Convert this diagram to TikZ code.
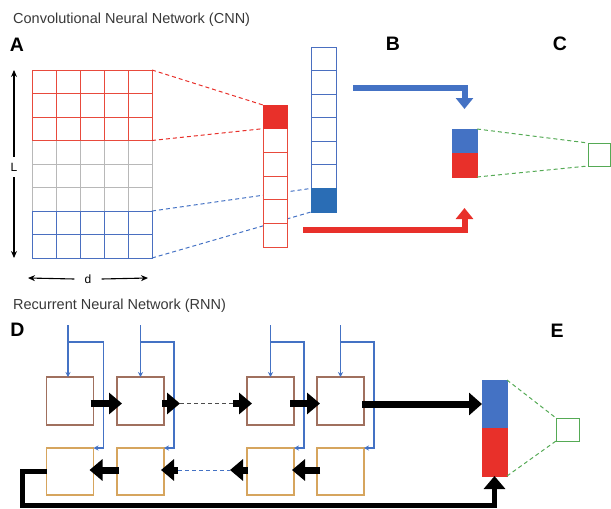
\documentclass[tikz,border=0pt]{standalone}
\usepackage{fontspec}
\setmainfont{Liberation Sans}
\usetikzlibrary{arrows.meta,calc}
\definecolor{cred}{HTML}{E8302A}
\definecolor{gridred}{HTML}{E84A3C}
\definecolor{gridgray}{HTML}{B8B8B8}
\definecolor{gridblue}{HTML}{4A6FC0}
\definecolor{cblue}{HTML}{4472C4}
\definecolor{cbluedark}{HTML}{2A6DB5}
\definecolor{cbrown}{HTML}{A0705E}
\definecolor{ctan}{HTML}{D6A55E}
\definecolor{cgreen}{HTML}{55AA55}
\definecolor{ctitle}{HTML}{383838}
\begin{document}
\begin{tikzpicture}[x=1pt,y=-1pt,
  cell/.style={draw, inner sep=0pt, outer sep=0pt, line width=0.9pt},
  titletext/.style={anchor=west, inner sep=0pt, text=ctitle, font=\fontsize{14.5}{17}\selectfont},
  panel/.style={inner sep=0pt, font=\fontsize{19.5}{22}\selectfont\bfseries},
  small/.style={inner sep=0pt, font=\fontsize{12}{14}\selectfont},
  dimarrow/.style={line width=1.1pt, -{Stealth[length=7pt,width=6pt]}},
  fat/.style={line width=7pt, -{Triangle[length=13pt,width=21pt]}},
  fatlong/.style={line width=7pt, -{Triangle[length=13pt,width=22pt]}},
  loopline/.style={line width=5pt, -{Triangle[length=13pt,width=21pt]}},
  bigblue/.style={draw=cblue, line width=6pt, -{Triangle[length=11pt,width=17pt]}},
  bigred/.style={draw=cred, line width=6pt, -{Triangle[length=11pt,width=17pt]}},
  bluein/.style={draw=cblue, line width=1.3pt, -{Stealth[length=5pt,width=5pt]}},
  rdash/.style={draw=cred, line width=1pt, dash pattern=on 4pt off 3pt},
  bdash/.style={draw=cblue, line width=1pt, dash pattern=on 4pt off 3pt},
  gdash/.style={draw=cgreen, line width=1pt, dash pattern=on 4pt off 3pt},
  kdash/.style={draw=black!70, line width=1pt, dash pattern=on 4pt off 3pt},
  topbox/.style={cell, draw=cbrown, line width=1.1pt, minimum width=47pt, minimum height=48pt},
  botbox/.style={cell, draw=ctan, line width=1.1pt, minimum width=47pt, minimum height=47pt}
]
\useasboundingbox (0,0) rectangle (611,509);

% ---------- titles and panel letters ----------
\node[titletext] (t-cnn) at (13,20) {Convolutional Neural Network (CNN)};
\node[titletext] (t-rnn) at (13,306) {Recurrent Neural Network (RNN)};
\node[panel] (pA) at (17,45) {A};
\node[panel] (pB) at (393,44) {B};
\node[panel] (pC) at (560,44) {C};
\node[panel] (pD) at (17.5,330) {D};
\node[panel] (pE) at (557,331) {E};

% ---------- input matrix ----------
\foreach \i in {0,...,5} \draw[gridgray, line width=0.9pt] (32+24*\i,140.5) -- (32+24*\i,211);
\foreach \j in {3,...,6} \draw[gridgray, line width=0.9pt] (32,70+23.5*\j) -- (152,70+23.5*\j);
\foreach \i in {1,...,4} \draw[gridred, line width=0.9pt] (32+24*\i,70) -- (32+24*\i,140.5);
\foreach \j in {1,2} \draw[gridred, line width=0.9pt] (32,70+23.5*\j) -- (152,70+23.5*\j);
\node[cell, draw=gridred, minimum width=120pt, minimum height=70.5pt] (redwin) at (92,105.25) {};
\foreach \i in {1,...,4} \draw[gridblue, line width=0.9pt] (32+24*\i,211) -- (32+24*\i,258);
\draw[gridblue, line width=0.9pt] (32,234.5) -- (152,234.5);
\node[cell, draw=gridblue, minimum width=120pt, minimum height=47pt] (bluewin) at (92,234.5) {};

% dimension arrows
\node[small] (lL) at (14,167) {L};
\draw[dimarrow] (lL.north) ++(0,-6) -- (14,70);
\draw[dimarrow] (lL.south) ++(0,6) -- (14,258);
\node[small] (ld) at (88,279) {d};
\draw[dimarrow] (ld.west) ++(-10,0) -- (28,278);
\draw[dimarrow] (ld.east) ++(10,0) -- (148,278);

% ---------- blue feature column ----------
\foreach \i in {1,...,7}
  \node[cell, draw=gridblue, minimum width=25pt, minimum height=23.57pt] (b\i) at (323.5,47+23.57*\i-11.785) {};
\node[cell, draw=cbluedark, fill=cbluedark, minimum width=25pt, minimum height=23.57pt] (bfill) at (b7) {};

% connectors behind red column
\draw[bdash] (bluewin.north east) -- (b7.north west);
\draw[bdash] (bluewin.south east) -- (b7.south west);

% ---------- red feature column ----------
\foreach \i in {1,...,6}
  \node[cell, draw=gridred, fill=white, minimum width=24pt, minimum height=23.67pt] (r\i) at (275,105+23.67*\i-11.835) {};
\node[cell, draw=cred, fill=cred, minimum width=24pt, minimum height=23.67pt] (rfill) at (r1) {};
\draw[rdash] (redwin.north east) -- (r1.north west);
\draw[rdash] (redwin.south east) -- (r1.south west);

% ---------- merged vector C ----------
\node[cell, draw=cblue, fill=cblue, minimum width=25pt, minimum height=24pt] (cb) at (464.5,141) {};
\node[cell, draw=cred, fill=cred, minimum width=25pt, minimum height=24pt] (cr) at (464.5,165) {};
\node[cell, draw=cgreen, line width=1pt, minimum width=22pt, minimum height=23pt] (gc) at (599,154.5) {};
\draw[gdash] (cb.north east) -- (gc.north west);
\draw[gdash] (cr.south east) -- (gc.south west);

\coordinate (bs) at (353,88);
\coordinate (rs) at (303,229.5);
\draw[bigblue] (bs) -| ([yshift=20pt]cb.north);
\draw[bigred] (rs) -| ([yshift=-31pt]cr.south);

% ---------- RNN ----------
\node[topbox] (t1) at (70,401) {};
\node[topbox] (t2) at (140.5,401) {};
\node[topbox] (t3) at (270.5,401) {};
\node[topbox] (t4) at (340.5,401) {};
\node[botbox] (u1) at (70,471.5) {};
\node[botbox] (u2) at (140.5,471.5) {};
\node[botbox] (u3) at (270.5,471.5) {};
\node[botbox] (u4) at (340.5,471.5) {};

% inputs
\foreach \k/\xo in {1/-2,2/0,3/0,4/0} {
  \coordinate (in\k) at ($(t\k.north)+(\xo,-52)$);
  \coordinate (br\k) at ($(t\k.north)+(\xo,-35)$);
  \coordinate (dn\k) at ($(u\k.north east)+(10,0)$);
  \draw[bluein] (in\k) -- (in\k |- t\k.north);
  \draw[bluein] (br\k) -| (dn\k) |- (u\k.north east);
}

% E output
\node[cell, draw=cblue, fill=cblue, minimum width=25pt, minimum height=48pt] (eb) at (494.5,404) {};
\node[cell, draw=cred, fill=cred, minimum width=25pt, minimum height=48pt] (er) at (494.5,452) {};
\node[cell, draw=cgreen, line width=1pt, minimum width=23pt, minimum height=23pt] (ge) at (567.5,429.5) {};
\draw[gdash] (eb.north east) -- (ge.north west);
\draw[gdash] (er.south east) -- (ge.south west);

% forward arrows
\coordinate (g1) at ([xshift=16pt]t2.east);
\coordinate (g2) at ([xshift=-14pt]t3.west);
\draw[fat] ([shift={(-3pt,-2.5pt)}]t1.east) -- ([shift={(5pt,-2.5pt)}]t2.west);
\draw[fat] ([shift={(-2pt,-2.5pt)}]t2.east) -- ([yshift=-2.5pt]g1);
\draw[kdash] ([yshift=-2.5pt]g1) -- ([yshift=-2.5pt]g2);
\draw[fat] ([yshift=-2.5pt]g2) -- ([shift={(5pt,-2.5pt)}]t3.west);
\draw[fat] ([shift={(-4pt,-2.5pt)}]t3.east) -- ([shift={(3pt,-2.5pt)}]t4.west);
\draw[fatlong] ([shift={(-2pt,-3pt)}]t4.east) -- (eb.west);

% backward arrows
\coordinate (h1) at ([xshift=14pt]u2.east);
\coordinate (h2) at ([xshift=-17pt]u3.west);
\draw[fat] ([shift={(2pt,1.5pt)}]u2.west) -- ([shift={(-4pt,1.5pt)}]u1.east);
\draw[fat] ([yshift=1.5pt]h1) -- ([shift={(-3pt,1.5pt)}]u2.east);
\draw[bdash] ([yshift=1.5pt]h1) -- ([yshift=1.5pt]h2);
\draw[fat] ([shift={(1pt,1.5pt)}]u3.west) -- ([yshift=1.5pt]h2);
\draw[fat] ([shift={(3pt,1.5pt)}]u4.west) -- ([shift={(-2pt,1.5pt)}]u3.east);

% loop back to output
\coordinate (lc) at (22,505);
\draw[loopline] (u1.west) -| (lc) -| (er.south);
\end{tikzpicture}
\end{document}
